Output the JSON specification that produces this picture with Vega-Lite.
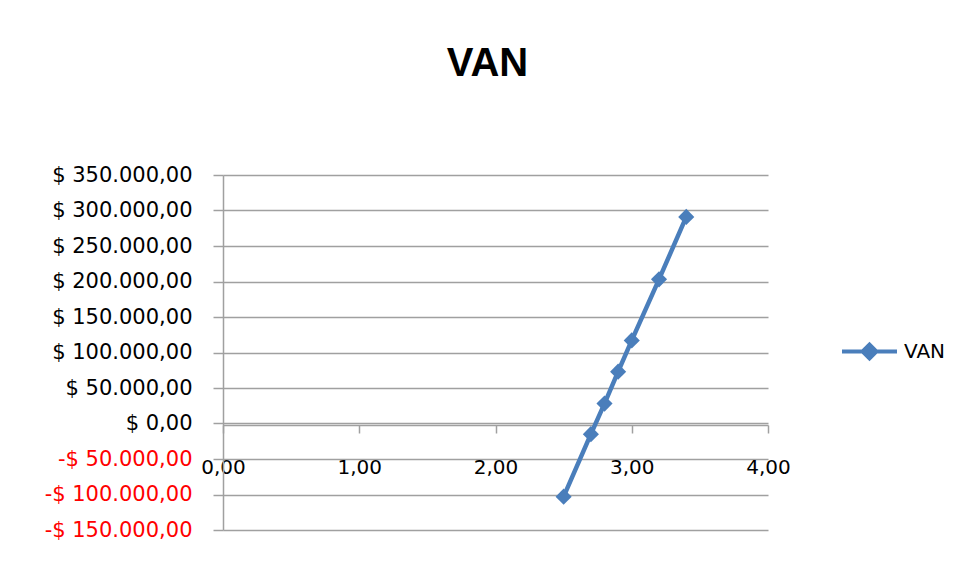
{
  "$schema": "https://vega.github.io/schema/vega-lite/v6.json",
  "width": 545,
  "height": 355,
  "autosize": {"type": "none"},
  "padding": {"left": 223, "top": 175, "right": 191, "bottom": 54},
  "background": "white",
  "config": {
    "locale": {"number": {"decimal": ",", "thousands": ".", "grouping": [3], "currency": ["$ ", ""], "minus": "-"}},
    "view": {"stroke": null},
    "font": "DejaVu Sans"
  },
  "title": {
    "text": "VAN",
    "font": "Liberation Sans",
    "fontSize": 40,
    "fontWeight": "bold",
    "color": "#000000",
    "anchor": "middle",
    "frame": "group",
    "baseline": "alphabetic",
    "dx": -8,
    "offset": 48
  },
  "data": {
    "values": [
      {"tasa": 2.5, "van": -103000, "serie": "VAN"},
      {"tasa": 2.7, "van": -15000, "serie": "VAN"},
      {"tasa": 2.8, "van": 28000, "serie": "VAN"},
      {"tasa": 2.9, "van": 73000, "serie": "VAN"},
      {"tasa": 3.0, "van": 117000, "serie": "VAN"},
      {"tasa": 3.2, "van": 203000, "serie": "VAN"},
      {"tasa": 3.4, "van": 291000, "serie": "VAN"}
    ]
  },
  "mark": {
    "type": "line",
    "strokeWidth": 4.5,
    "point": {"shape": "diamond", "size": 260, "filled": true}
  },
  "encoding": {
    "x": {
      "field": "tasa",
      "type": "quantitative",
      "scale": {"domain": [0, 4], "nice": false, "zero": false},
      "axis": {
        "title": null,
        "values": [0, 1, 2, 3, 4],
        "format": ".2f",
        "grid": false,
        "offset": -105,
        "domainColor": "#a0a0a0",
        "domainWidth": 1.5,
        "tickColor": "#a0a0a0",
        "tickWidth": 1.5,
        "tickSize": 8,
        "labelPadding": 24,
        "labelFontSize": 20,
        "labelFont": "DejaVu Sans",
        "labelColor": "#000000",
        "labelFlush": false
      }
    },
    "y": {
      "field": "van",
      "type": "quantitative",
      "scale": {"domain": [-150000, 350000], "nice": false, "zero": false},
      "axis": {
        "title": null,
        "values": [-150000, -100000, -50000, 0, 50000, 100000, 150000, 200000, 250000, 300000, 350000],
        "format": "$,.2f",
        "grid": true,
        "gridColor": "#a0a0a0",
        "gridWidth": 1.5,
        "domainColor": "#a0a0a0",
        "domainWidth": 1.5,
        "tickColor": "#a0a0a0",
        "tickWidth": 1.5,
        "tickSize": 10,
        "labelPadding": 21,
        "labelFontSize": 21,
        "labelFont": "DejaVu Sans",
        "labelColor": {"condition": {"test": "datum.value < 0", "value": "#ff0000"}, "value": "#000000"}
      }
    },
    "color": {
      "field": "serie",
      "type": "nominal",
      "scale": {"range": ["#4a7ebb"]},
      "legend": {
        "title": null,
        "orient": "none",
        "legendX": 617,
        "legendY": 147,
        "padding": 0,
        "symbolType": "M-1,0H1M-0.25,0L0,-0.25L0.25,0L0,0.25Z",
        "symbolSize": 3025,
        "symbolStrokeWidth": 4,
        "symbolFillColor": "#4a7ebb",
        "symbolStrokeColor": "#4a7ebb",
        "labelOffset": 5,
        "labelFontSize": 20,
        "labelFont": "DejaVu Sans",
        "labelColor": "#000000"
      }
    }
  }
}
